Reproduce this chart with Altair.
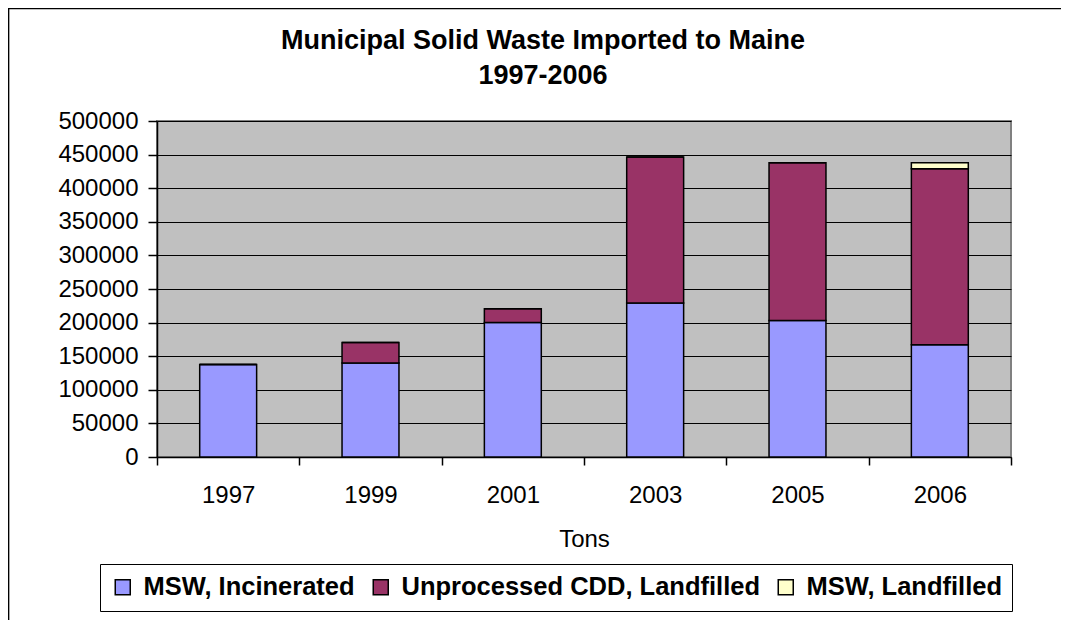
import altair as alt
import pandas as pd

years = ["1997", "1999", "2001", "2003", "2005", "2006"]
series = ["MSW, Incinerated", "Unprocessed CDD, Landfilled", "MSW, Landfilled"]
incinerated = [137500, 140000, 200000, 229000, 203000, 167000]
cdd_landfilled = [0, 30500, 20500, 217500, 235000, 262000]
msw_landfilled = [0, 0, 0, 0, 0, 9000]
colors = ["#9999FF", "#993366", "#FFFFCC"]
title_lines = ["Municipal Solid Waste Imported to Maine", "1997-2006"]

rows = []
for i, y in enumerate(years):
    for k, (name, vals) in enumerate(zip(series, [incinerated, cdd_landfilled, msw_landfilled])):
        rows.append({"Year": y, "Series": name, "Tons": vals[i], "order": k})
df = pd.DataFrame(rows)
one = pd.DataFrame({"k": [0]})

FONT = "Liberation Sans"
W, H = 854, 336

bars = alt.Chart(df).mark_bar(
    width=alt.RelativeBandSize(0.4), stroke="black", strokeWidth=1.5
).encode(
    x=alt.X("Year:N", sort=years, scale=alt.Scale(paddingInner=0, paddingOuter=0),
            axis=alt.Axis(title="Tons", labelAngle=0, tickBand="extent", tickSize=8,
                          labelPadding=18, titlePadding=20, domainColor="black",
                          tickColor="black", domainWidth=1.5, tickWidth=1.5)),
    y=alt.Y("Tons:Q", stack="zero", scale=alt.Scale(domain=[0, 500000]),
            axis=alt.Axis(title=None, values=list(range(0, 500001, 50000)), format="d",
                          tickSize=9, labelPadding=10, grid=True, gridColor="black",
                          gridWidth=1.2, domainColor="black", tickColor="black",
                          domainWidth=1.5, tickWidth=1.5)),
    color=alt.Color("Series:N", scale=alt.Scale(domain=series, range=colors),
                    legend=alt.Legend(title=None, orient="none", legendX=-57, legendY=443,
                                      direction="horizontal")),
    order=alt.Order("order:Q"),
)

title = alt.Chart(one).mark_text(
    text=title_lines, font=FONT, fontSize=27, fontWeight="bold", color="black",
    lineHeight=35, align="center", baseline="middle", clip=False
).encode(x=alt.value(386), y=alt.value(-80))

frame_top = alt.Chart(one).mark_rule(color="black", strokeWidth=2.7, clip=False).encode(
    x=alt.value(-149), x2=alt.value(1000), y=alt.value(-113)
)
frame_left = alt.Chart(one).mark_rule(color="black", strokeWidth=2.7, clip=False).encode(
    x=alt.value(-149), y=alt.value(-113), y2=alt.value(600)
)

chart = alt.layer(bars, title, frame_top, frame_left).properties(
    width=W, height=H,
    autosize=alt.AutoSizeParams(type="none"),
    padding={"left": 149, "top": 113, "right": 50, "bottom": 163},
).configure_view(
    fill="#C0C0C0", stroke="#808080", strokeWidth=2
).configure_axis(
    labelFont=FONT, titleFont=FONT, labelFontSize=24, titleFontSize=24,
    labelColor="black", titleColor="black", titleFontWeight="normal"
).configure_legend(
    labelFont=FONT, labelFontSize=25.5, labelFontWeight="bold", labelColor="black",
    symbolType="square", symbolSize=225, symbolStrokeColor="black", symbolStrokeWidth=1.5,
    symbolOpacity=1, strokeColor="black", fillColor="white", padding=10,
    columnPadding=13, labelOffset=8, labelLimit=600
)

chart.save("out.html", embed_options={"renderer": "svg", "actions": False})
